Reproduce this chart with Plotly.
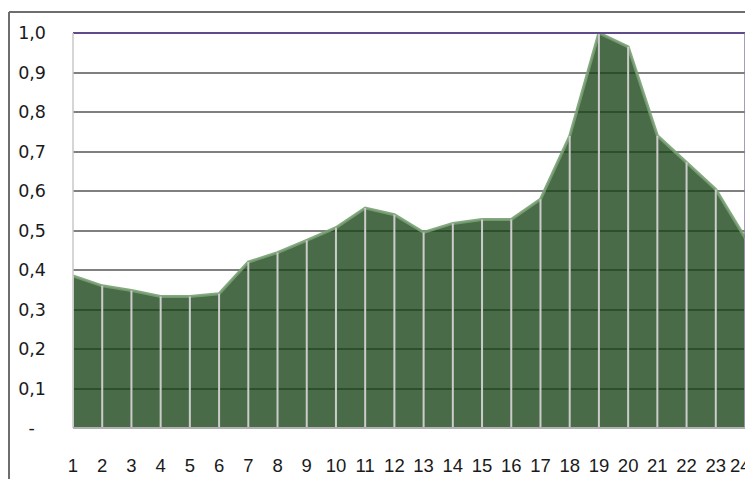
import plotly.graph_objects as go

hours = list(range(1, 25))
values = [0.385, 0.360, 0.348, 0.333, 0.333, 0.340, 0.420, 0.444, 0.475, 0.507,
          0.557, 0.540, 0.495, 0.518, 0.528, 0.528, 0.579, 0.739, 1.000, 0.965,
          0.740, 0.673, 0.604, 0.482]
hour_labels = [str(h) for h in hours]
ytick_vals = [0, 0.1, 0.2, 0.3, 0.4, 0.5, 0.6, 0.7, 0.8, 0.9, 1.0]
ytick_text = ["-\u00a0\u00a0", "0,1", "0,2", "0,3", "0,4", "0,5", "0,6", "0,7", "0,8", "0,9", "1,0"]

fig = go.Figure()
# filled area
fig.add_trace(go.Scatter(
    x=hours, y=values, mode="lines", fill="tozeroy",
    fillcolor="rgba(23,65,19,0.78)",
    line=dict(color="rgba(120,160,115,0.9)", width=3),
    hoverinfo="skip", showlegend=False))
# drop lines
fig.add_trace(go.Scatter(
    x=hours, y=values, mode="markers", marker=dict(size=1, opacity=0),
    error_y=dict(type="data", symmetric=False, array=[0] * len(values),
                 arrayminus=values, width=0, thickness=2, color="#cccccc"),
    hoverinfo="skip", showlegend=False))

yfont = dict(family="DejaVu Sans, Verdana, sans-serif", size=17.5, color="#1a1a1a")
xfont = dict(family="Liberation Sans, Arial, sans-serif", size=18.5, color="#1a1a1a")

W, H = 745, 471
l, r, t, b = 65, 8, 25, 51
# last label is placed as a right-anchored annotation so it stays inside the page
xtick_text = hour_labels[:-1] + [""]
fig.update_layout(
    width=W, height=H,
    margin=dict(l=l, r=r, t=t, b=b),
    paper_bgcolor="white", plot_bgcolor="white",
    xaxis=dict(range=[1, 24], tickvals=hours, ticktext=xtick_text,
               showgrid=False, zeroline=False, showline=False, ticks="",
               ticklabelstandoff=24, tickfont=xfont, automargin=False),
    yaxis=dict(range=[0, 1.0], tickvals=ytick_vals, ticktext=ytick_text,
               showgrid=True, gridcolor="#808080", gridwidth=2, zeroline=False,
               showline=False, ticks="", ticklabelstandoff=26, tickfont=yfont,
               automargin=False),
    annotations=[dict(x=hours[-1], xref="x", y=0, yref="paper", text=hour_labels[-1],
                      showarrow=False, xanchor="right", yanchor="middle", yshift=-37,
                      xshift=8, font=xfont)],
)

pw, ph = W - l - r, H - t - b
fx = lambda px: (px - l) / pw
fy = lambda py: (H - b - py) / ph
fig.update_layout(shapes=[
    # outer frame
    dict(type="line", xref="paper", yref="paper", x0=fx(1), x1=fx(W + 5), y0=fy(4), y1=fy(4),
         line=dict(color="#6e6e6e", width=2)),
    dict(type="line", xref="paper", yref="paper", x0=fx(1), x1=fx(1), y0=fy(4), y1=fy(H + 5),
         line=dict(color="#6e6e6e", width=2)),
    # plot area border
    dict(type="line", xref="paper", yref="paper", x0=0, x1=1, y0=1, y1=1,
         line=dict(color="#5f4b8b", width=2)),
    dict(type="line", xref="paper", yref="paper", x0=1, x1=1, y0=0, y1=1,
         line=dict(color="#8a7aa8", width=1.5)),
    dict(type="line", xref="paper", yref="paper", x0=0, x1=0, y0=0, y1=1,
         line=dict(color="#c8c8c8", width=1.5)),
    dict(type="line", xref="paper", yref="paper", x0=0, x1=1, y0=0, y1=0,
         line=dict(color="#b0b0b0", width=2)),
])

fig.write_html("out.html")
